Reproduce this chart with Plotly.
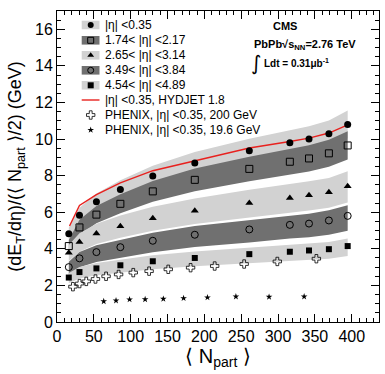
import plotly.graph_objects as go

# ---------------- data ----------------
npart = [16, 30.5, 53.5, 86, 130, 187, 261, 316, 342, 369, 394.5]

eta_0035 = [4.82, 5.84, 6.57, 7.24, 7.98, 8.69, 9.36, 9.80, 10.00, 10.29, 10.80]
eta_174_217 = [4.15, 5.17, 5.87, 6.46, 7.14, 7.77, 8.37, 8.76, 8.94, 9.22, 9.65]
eta_265_314 = [3.79, 4.37, 4.84, 5.24, 5.67, 6.08, 6.51, 6.78, 6.93, 7.09, 7.42]
eta_349_384 = [3.00, 3.48, 3.82, 4.09, 4.44, 4.77, 5.06, 5.31, 5.38, 5.55, 5.80]
eta_454_489 = [2.43, 2.73, 2.93, 3.10, 3.32, 3.50, 3.71, 3.84, 3.91, 3.98, 4.15]

# relative systematic uncertainty (up, down)
sys_rel = {
    "eta_0035": (0.07, 0.07),
    "eta_174_217": (0.08, 0.08),
    "eta_265_314": (0.11, 0.12),
    "eta_349_384": (0.10, 0.14),
    "eta_454_489": (0.10, 0.13),
}

hydjet_npart = [17, 30.5, 53.5, 86, 130, 187, 261, 316, 342, 369, 394.5]
hydjet_val = [5.25, 6.37, 6.96, 7.60, 8.27, 8.82, 9.51, 9.87, 10.05, 10.33, 10.78]

phenix200_npart = [21.6, 30.6, 39.7, 52.2, 66.6, 83.6, 103.5, 125, 151, 181.3, 214, 254, 299, 352]
phenix200_val = [1.93, 2.10, 2.22, 2.35, 2.50, 2.60, 2.70, 2.78, 2.88, 2.97, 3.06, 3.17, 3.31, 3.46]

phenix19_npart = [63.4, 80.1, 98.5, 119.6, 144.3, 171.8, 204.2, 242.8, 287.8, 335.4]
phenix19_val = [1.13, 1.17, 1.23, 1.24, 1.26, 1.30, 1.34, 1.39, 1.37, 1.39]

legend_labels = [
    "|η| <0.35",
    "1.74< |η| <2.17",
    "2.65< |η| <3.14",
    "3.49< |η| <3.84",
    "4.54< |η| <4.89",
    "|η| <0.35, HYDJET 1.8",
    "PHENIX, |η| <0.35, 200 GeV",
    "PHENIX, |η| <0.35, 19.6 GeV",
]

# ---------------- styles ----------------
LIGHT = "#d2d2d2"
DARK = "#707070"
FONT = "Liberation Sans, Arial, sans-serif"

series = [
    ("eta_0035", eta_0035, LIGHT, dict(symbol="circle", size=7, color="black")),
    ("eta_174_217", eta_174_217, DARK, dict(symbol="square-open", size=7, color="black", line=dict(width=1))),
    ("eta_265_314", eta_265_314, LIGHT, dict(symbol="triangle-up", size=7, color="black")),
    ("eta_349_384", eta_349_384, DARK, dict(symbol="circle-open", size=7, color="black", line=dict(width=1))),
    ("eta_454_489", eta_454_489, LIGHT, dict(symbol="square", size=6, color="black")),
]

fig = go.Figure()

# bands
for name, vals, col, _ in series:
    up, dn = sys_rel[name]
    hi = [v * (1 + up) for v in vals]
    lo = [v * (1 - dn) for v in vals]
    fig.add_trace(go.Scatter(
        x=npart + npart[::-1], y=hi + lo[::-1], fill="toself",
        fillcolor=col, line=dict(width=0), mode="lines",
        hoverinfo="skip", showlegend=False))

# hydjet line
fig.add_trace(go.Scatter(x=hydjet_npart, y=hydjet_val, mode="lines",
                         line=dict(color="#e8211e", width=1.4), showlegend=False))

# phenix
fig.add_trace(go.Scatter(x=phenix200_npart, y=phenix200_val, mode="markers",
                         marker=dict(symbol="cross-open", size=7, color="black", line=dict(width=0.8)),
                         showlegend=False))
fig.add_trace(go.Scatter(x=phenix19_npart, y=phenix19_val, mode="markers",
                         marker=dict(symbol="star", size=5, color="black", line=dict(width=0)),
                         showlegend=False))

# CMS points
for name, vals, col, mk in series:
    fig.add_trace(go.Scatter(x=npart, y=vals, mode="markers", marker=mk, showlegend=False))

# ---------------- manual legend on a pixel-like overlay axis ----------------
row_y = [25, 40.3, 55.3, 70.3, 85.3, 100, 115, 130]
box_x0, box_x1, mk_x, txt_x = 81.7, 99.5, 90.7, 103.3
shapes = []
for i, (name, vals, col, mk) in enumerate(series):
    shapes.append(dict(type="rect", xref="x2", yref="y2", x0=box_x0, x1=box_x1,
                       y0=row_y[i] - 4.3, y1=row_y[i] + 4.3, fillcolor=col, line=dict(width=0),
                       layer="below"))
    lm = dict(mk)
    lm["size"] = 6
    fig.add_trace(go.Scatter(x=[mk_x], y=[row_y[i]], xaxis="x2", yaxis="y2", mode="markers",
                             marker=lm, showlegend=False, hoverinfo="skip"))
shapes.append(dict(type="line", xref="x2", yref="y2", x0=box_x0, x1=box_x1,
                   y0=row_y[5], y1=row_y[5], line=dict(color="#e8211e", width=1.4)))
fig.add_trace(go.Scatter(x=[mk_x], y=[row_y[6]], xaxis="x2", yaxis="y2", mode="markers",
                         marker=dict(symbol="cross-open", size=7, color="black", line=dict(width=0.8)),
                         showlegend=False, hoverinfo="skip"))
fig.add_trace(go.Scatter(x=[mk_x], y=[row_y[7]], xaxis="x2", yaxis="y2", mode="markers",
                         marker=dict(symbol="star", size=5, color="black", line=dict(width=0)),
                         showlegend=False, hoverinfo="skip"))

annotations = []
for i, lab in enumerate(legend_labels):
    annotations.append(dict(xref="x2", yref="y2", x=txt_x, y=row_y[i], text=lab,
                            showarrow=False, xanchor="left", yanchor="middle",
                            font=dict(size=12, color="black", family=FONT)))

annotations += [
    dict(xref="x2", yref="y2", x=285, y=26, text="<b>CMS</b>", showarrow=False,
         xanchor="center", yanchor="middle", font=dict(size=11, color="black", family=FONT)),
    dict(xref="x2", yref="y2", x=252, y=44.5, text="<b>PbPb√s<sub>NN</sub>=2.76 TeV</b>",
         showarrow=False, xanchor="left", yanchor="middle",
         font=dict(size=11, color="black", family=FONT)),
    dict(xref="x2", yref="y2", x=256, y=63, text="∫", showarrow=False,
         xanchor="center", yanchor="middle", font=dict(size=20, color="black", family="DejaVu Sans")),
    dict(xref="x2", yref="y2", x=262, y=63, text="<b>Ldt = 0.31μb<sup>-1</sup></b>",
         showarrow=False, xanchor="left", yanchor="middle",
         font=dict(size=10, color="black", family=FONT)),
]

axis_common = dict(
    showline=True, linecolor="black", linewidth=1, mirror="ticks",
    ticks="inside", ticklen=8, tickwidth=1, tickcolor="black",
    showgrid=False, zeroline=False,
    tickfont=dict(size=16, color="black", family=FONT),
)

fig.update_layout(
    width=385, height=374,
    margin=dict(l=57, r=6, t=11, b=52),
    plot_bgcolor="white", paper_bgcolor="white",
    showlegend=False,
    font=dict(family=FONT, color="black"),
    xaxis=dict(range=[0, 437], dtick=50, tick0=0,
               minor=dict(dtick=10, ticklen=4, ticks="inside", tickcolor="black"),
               title=dict(text="⟨ N<sub>part</sub> ⟩", font=dict(size=20, family=FONT), standoff=4),
               **axis_common),
    yaxis=dict(range=[0, 17], dtick=2, tick0=0,
               minor=dict(dtick=0.5, ticklen=4, ticks="inside", tickcolor="black"),
               title=dict(text="(dE<sub>T</sub>/dη)/(⟨ N<sub>part</sub> ⟩/2) (GeV)",
                          font=dict(size=18, family=FONT), standoff=8),
               **axis_common),
    xaxis2=dict(range=[57, 379], overlaying="x", visible=False, fixedrange=True),
    yaxis2=dict(range=[322, 11], overlaying="y", visible=False, fixedrange=True),
    shapes=shapes,
    annotations=annotations,
)

fig.write_html("out.html")
